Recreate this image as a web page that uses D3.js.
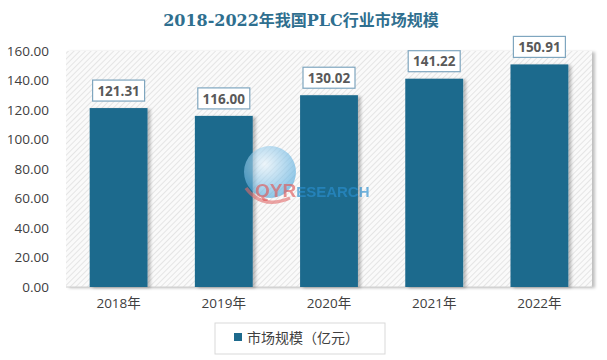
<!DOCTYPE html>
<html><head><meta charset="utf-8">
<script src="https://cdn.jsdelivr.net/npm/d3@7"></script>
<style>body{margin:0;background:#fff}svg{display:block}</style>
</head><body>
<svg id="c" width="607" height="360"></svg>
<script>
const categories = ["2018年","2019年","2020年","2021年","2022年"];
const values = [121.31, 116.00, 130.02, 141.22, 150.91];
const yTicks = [0,20,40,60,80,100,120,140,160];
const title = "2018-2022年我国PLC行业市场规模";
const legendLabel = "市场规模（亿元）";

const svg = d3.select("#c");
const W = 607, H = 360;
const m = {left:66, right:15, top:51, bottom:73};
const x = d3.scaleBand().domain(categories).range([m.left, W - m.right]).paddingInner(0.45).paddingOuter(0.225);
const y = d3.scaleLinear().domain([0,160]).range([H - m.bottom, m.top]);

const defs = svg.append("defs");
const pat = defs.append("pattern").attr("id","hatch").attr("patternUnits","userSpaceOnUse")
  .attr("width",4).attr("height",4).attr("patternTransform","rotate(45)");
pat.append("rect").attr("width",4).attr("height",4).attr("fill","#fafafa");
pat.append("line").attr("x1",0).attr("y1",0).attr("x2",0).attr("y2",4).attr("stroke","#dcdcdc").attr("stroke-width",1.4);
const f = defs.append("filter").attr("id","sh").attr("x","-20%").attr("y","-20%").attr("width","150%").attr("height","150%");
f.append("feDropShadow").attr("dx",3).attr("dy",1).attr("stdDeviation",1.5).attr("flood-color","#000").attr("flood-opacity",0.25);
const rg = defs.append("radialGradient").attr("id","globe").attr("cx","40%").attr("cy","35%").attr("r","65%");
rg.append("stop").attr("offset","0%").attr("stop-color","#e6f4fc");
rg.append("stop").attr("offset","100%").attr("stop-color","#4aa6dc");

// plot background
svg.append("rect").attr("x",m.left).attr("y",m.top).attr("width",W-m.right-m.left).attr("height",y(0)-m.top)
  .attr("fill","url(#hatch)").attr("filter","url(#sh)");

// axis line
svg.append("line").attr("x1",m.left).attr("x2",W-m.right).attr("y1",y(0)).attr("y2",y(0))
  .attr("stroke","#d0d0d0").attr("stroke-width",1);

// y axis labels
const yAxis = d3.axisLeft(y).tickValues(yTicks).tickFormat(d3.format(".2f")).tickSize(0).tickPadding(17);
const ya = svg.append("g").attr("transform",`translate(${m.left},0)`).call(yAxis);
ya.select(".domain").remove();
ya.selectAll("text").attr("font-family","Open Sans, 'Noto Sans', sans-serif").attr("font-size",13.5).attr("fill","#404040");

// x axis labels
const xAxis = d3.axisBottom(x).tickSize(0).tickPadding(11);
const xa = svg.append("g").attr("transform",`translate(0,${y(0)})`).call(xAxis);
xa.select(".domain").remove();
xa.selectAll("text").attr("font-family","Open Sans, 'Noto Sans CJK SC', sans-serif").attr("font-size",13.5).attr("fill","#404040");

// bars
svg.append("g").selectAll("rect").data(values).join("rect")
  .attr("x",(d,i)=>x(categories[i])).attr("width",x.bandwidth())
  .attr("y",d=>y(d)).attr("height",d=>y(0)-y(d))
  .attr("fill","#1d6a8d").attr("filter","url(#sh)");

// watermark
const wm = svg.append("g").attr("opacity",0.6);
wm.append("circle").attr("cx",270).attr("cy",172).attr("r",26).attr("fill","url(#globe)");
wm.append("path").attr("d","M246,188 Q262,210 290,198").attr("fill","none").attr("stroke","#e36b6b").attr("stroke-width",3.5);
const wt = svg.append("text").attr("x",255).attr("y",197).attr("font-family","Arial, 'Liberation Sans', sans-serif")
  .attr("font-weight","bold").attr("font-size",19).attr("opacity",0.65);
wt.append("tspan").attr("fill","#e05a5a").text("QYR");
wt.append("tspan").attr("fill","#2a8fd0").attr("font-size",15).text("ESEARCH");

// value labels
const lg = svg.append("g").selectAll("g").data(values).join("g")
  .attr("transform",(d,i)=>`translate(${x(categories[i])+x.bandwidth()/2},${y(d)-17})`);
lg.append("rect").attr("x",-26).attr("y",-11).attr("width",52).attr("height",21)
  .attr("fill","#fff").attr("stroke","#7fa6bf").attr("stroke-width",1.2);
lg.append("text").attr("text-anchor","middle").attr("dy","0.35em")
  .attr("font-family","Open Sans, 'Noto Sans', sans-serif").attr("font-weight","bold").attr("font-size",13.5)
  .attr("fill","#595959").text(d=>d3.format(".2f")(d));

// title
svg.append("text").attr("x",301).attr("y",26).attr("text-anchor","middle")
  .attr("font-family","'DejaVu Serif', 'Noto Sans CJK SC', serif").attr("font-weight","bold").attr("font-size",16)
  .attr("fill","#2f6f8f").text(title);

// legend
const leg = svg.append("g");
leg.append("rect").attr("x",215).attr("y",323).attr("width",170).attr("height",31).attr("fill","#fff").attr("stroke","#d9d9d9");
leg.append("rect").attr("x",234).attr("y",333).attr("width",8).attr("height",8).attr("fill","#1d6a8d");
leg.append("text").attr("x",247).attr("y",338).attr("dy","0.35em")
  .attr("font-family","'Noto Sans CJK SC', sans-serif").attr("font-size",14).attr("fill","#404040").text(legendLabel);
</script>
</body></html>
